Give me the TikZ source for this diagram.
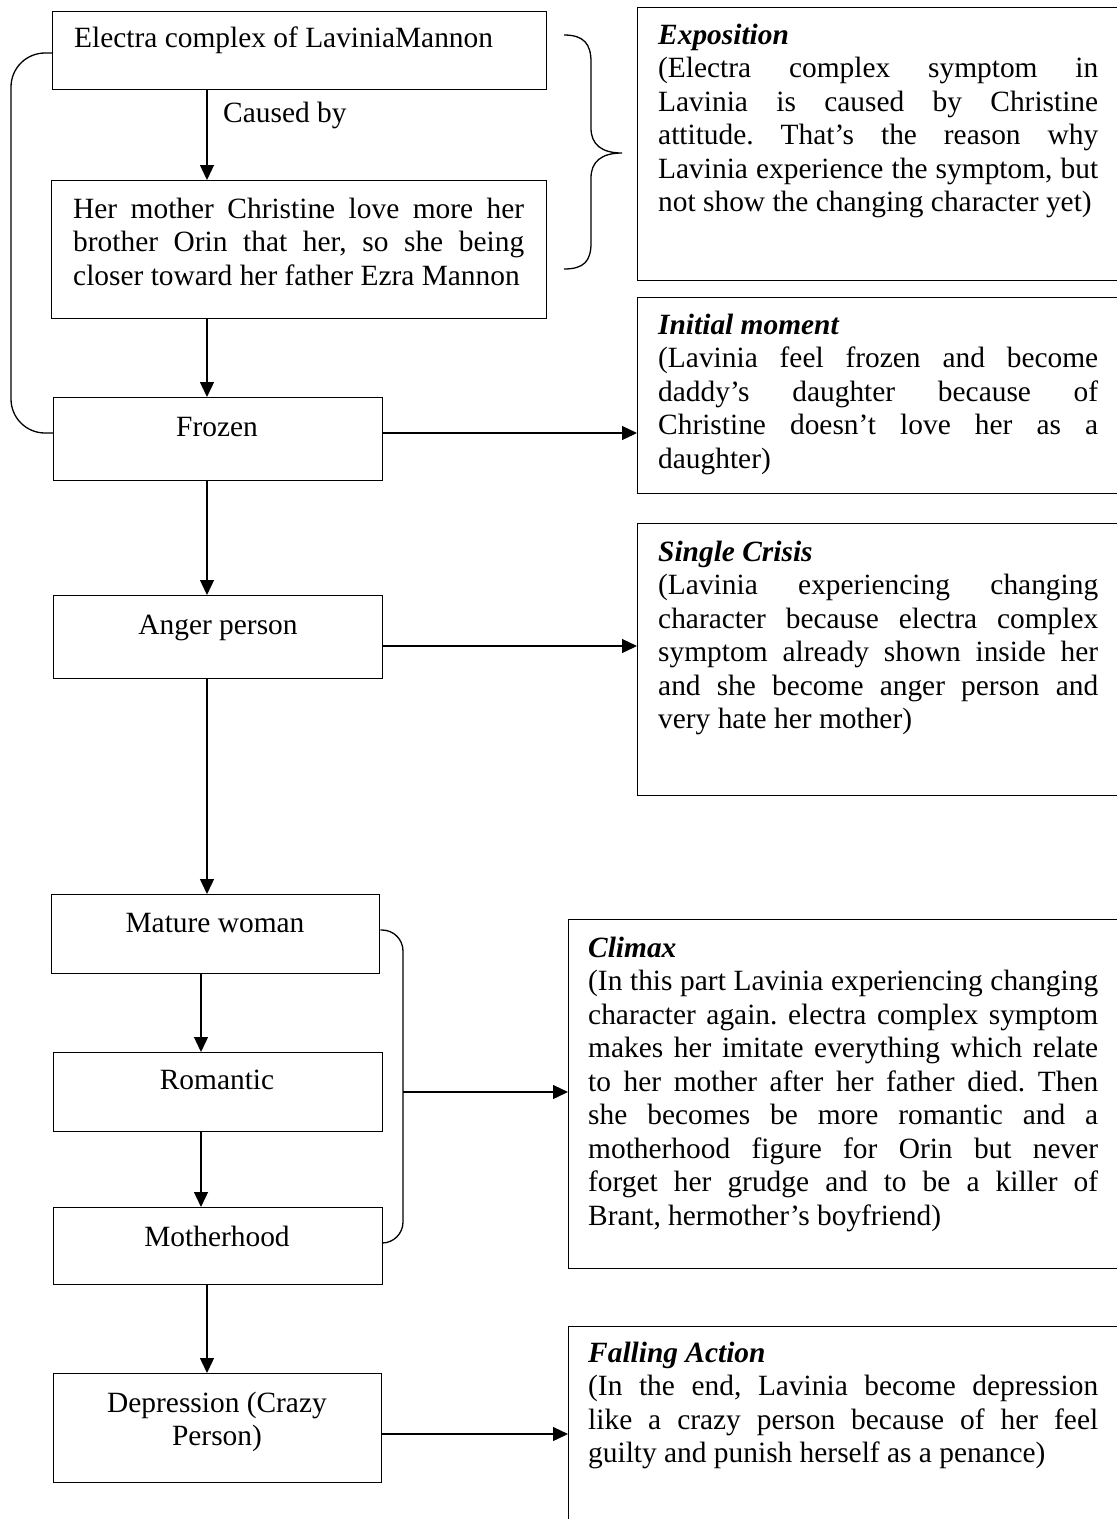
\documentclass[tikz,border=0pt]{standalone}
\usepackage{fontspec}
\setmainfont{Liberation Serif}
\usetikzlibrary{arrows.meta}
\newcommand{\fixsp}{\spaceskip=0pt\xspaceskip=0pt\frenchspacing}
\newcommand{\jl}[2]{\leavevmode\hbox to #1{\fixsp #2}}
\newcommand{\nl}[1]{\leavevmode\hbox{\fixsp #1}}
\begin{document}
\begin{tikzpicture}[x=1pt,y=-1pt,
  box/.style={draw, line width=1.3pt, inner sep=0pt, anchor=north west},
  arr/.style={line width=1.3pt, -{Triangle[length=15pt,width=14pt]}},
  ln/.style={line width=1.3pt},
  txt/.style={inner sep=0pt, font=\fontsize{29.4}{33.5}\selectfont},
  para/.style={txt, anchor=base west, align=left, text width=#1},
  ctr/.style={txt, anchor=base}]
\useasboundingbox (0,0) rectangle (1117,1519);
\clip (0,0) rectangle (1117,1519);

% left column boxes
\node[box, minimum width=494pt, minimum height=78pt]  (b1)  at (52,11) {};
\node[box, minimum width=495pt, minimum height=138pt] (b2)  at (51,180) {};
\node[box, minimum width=329pt, minimum height=83pt]  (frozen) at (53,397) {};
\node[box, minimum width=329pt, minimum height=83pt]  (anger)  at (53,595) {};
\node[box, minimum width=328pt, minimum height=79pt]  (mature) at (51,894) {};
\node[box, minimum width=329pt, minimum height=79pt]  (romantic) at (53,1052) {};
\node[box, minimum width=329pt, minimum height=77pt]  (mother) at (53,1207) {};
\node[box, minimum width=328pt, minimum height=109pt] (depr) at (53,1373) {};

% right column boxes
\node[box, minimum width=500pt, minimum height=273pt] (expo)    at (637,7) {};
\node[box, minimum width=500pt, minimum height=196pt] (init)    at (637,297) {};
\node[box, minimum width=500pt, minimum height=272pt] (single)  at (637,523) {};
\node[box, minimum width=570pt, minimum height=349pt] (climax)  at (568,919) {};
\node[box, minimum width=570pt, minimum height=230pt] (falling) at (568,1326) {};

% left texts
\node[txt, anchor=base west] (t1) at (74,47) {Electra complex of LaviniaMannon};
\node[txt, anchor=base west] (cb) at (223,122) {Caused by};
\node[para=460pt] (t2) at (73,218) {\jl{451pt}{Her mother Christine love more her}\\\jl{451pt}{brother Orin that her, so she being}\\\nl{closer toward her father Ezra Mannon}};
\node[ctr] (tf) at (217,436) {Frozen};
\node[ctr] (ta) at (218,634) {Anger person};
\node[ctr] (tm) at (215,932) {Mature woman};
\node[ctr] (tr) at (217,1089) {Romantic};
\node[ctr] (tmo) at (217,1246) {Motherhood};
\node[ctr, text width=320pt, align=center] (td) at (217,1412) {\nl{Depression (Crazy}\\\nl{Person)}};

% right texts
\node[para=460pt] (te) at (658,44) {\nl{\textbf{\textit{Exposition}}}\\
\jl{440pt}{(Electra complex symptom in}\\
\jl{440pt}{Lavinia is caused by Christine}\\
\jl{440pt}{attitude. That’s the reason why}\\
\jl{440pt}{Lavinia experience the symptom, but}\\
\nl{not show the changing character yet)}};
\node[para=460pt] (ti) at (658,334) {\nl{\textbf{\textit{Initial moment}}}\\
\jl{440pt}{(Lavinia feel frozen and become}\\
\jl{440pt}{daddy’s daughter because of}\\
\jl{440pt}{Christine doesn’t love her as a}\\
\nl{daughter)}};
\node[para=460pt] (ts) at (658,561) {\nl{\textbf{\textit{Single Crisis}}}\\
\jl{440pt}{(Lavinia experiencing changing}\\
\jl{440pt}{character because electra complex}\\
\jl{440pt}{symptom already shown inside her}\\
\jl{440pt}{and she become anger person and}\\
\nl{very hate her mother)}};
\node[para=530pt] (tc) at (588,957) {\nl{\textbf{\textit{Climax}}}\\
\jl{510pt}{(In this part Lavinia experiencing changing}\\
\jl{510pt}{character again. electra complex symptom}\\
\jl{510pt}{makes her imitate everything which relate}\\
\jl{510pt}{to her mother after her father died. Then}\\
\jl{510pt}{she becomes be more romantic and a}\\
\jl{510pt}{motherhood figure for Orin but never}\\
\jl{510pt}{forget her grudge and to be a killer of}\\
\nl{Brant, hermother’s boyfriend)}};
\node[para=530pt] (tfa) at (588,1362) {\nl{\textbf{\textit{Falling Action}}}\\
\jl{510pt}{(In the end, Lavinia become depression}\\
\jl{510pt}{like a crazy person because of her feel}\\
\nl{guilty and punish herself as a penance)}};

% helper coordinates
\coordinate (xa) at (207,0);
\coordinate (xb) at (201,0);
\coordinate (yf) at (0,433);
\coordinate (ya) at (0,646);
\coordinate (yd) at (0,1434);
\coordinate (ly) at (0,53);
\coordinate (my1) at (0,930);
\coordinate (my2) at (0,1243);
\coordinate (br) at (403,1092);

% vertical arrows
\draw[arr] (b1.south -| xa) -- (b2.north -| xa);
\draw[arr] (b2.south -| xa) -- (frozen.north -| xa);
\draw[arr] (frozen.south -| xa) -- (anger.north -| xa);
\draw[arr] (anger.south -| xa) -- (mature.north -| xa);
\draw[arr] (mature.south -| xb) -- (romantic.north -| xb);
\draw[arr] (romantic.south -| xb) -- (mother.north -| xb);
\draw[arr] (mother.south -| xa) -- (depr.north -| xa);

% horizontal arrows
\draw[arr] (frozen.east |- yf) -- (init.west |- yf);
\draw[arr] (anger.east |- ya) -- (single.west |- ya);
\draw[arr] (depr.east |- yd) -- (falling.west |- yd);
\draw[arr] (br) -- (climax.west |- br);

% left bracket
\draw[ln, rounded corners=34pt] (b1.west |- ly) -- (11,53) -- (11,433) -- (frozen.west |- yf);
% mature bracket
\draw[ln, rounded corners=21pt] (mature.east |- my1) -- (403,930) -- (403,1243) -- (mother.east |- my2);
% right brace
\draw[ln] (564,35) .. controls (584,35) and (591,44) .. (591,62) -- (591,128)
  .. controls (591,144) and (601,153) .. (622,153)
  .. controls (601,153) and (591,162) .. (591,178) -- (591,243)
  .. controls (591,261) and (584,269) .. (564,269);
\end{tikzpicture}
\end{document}
